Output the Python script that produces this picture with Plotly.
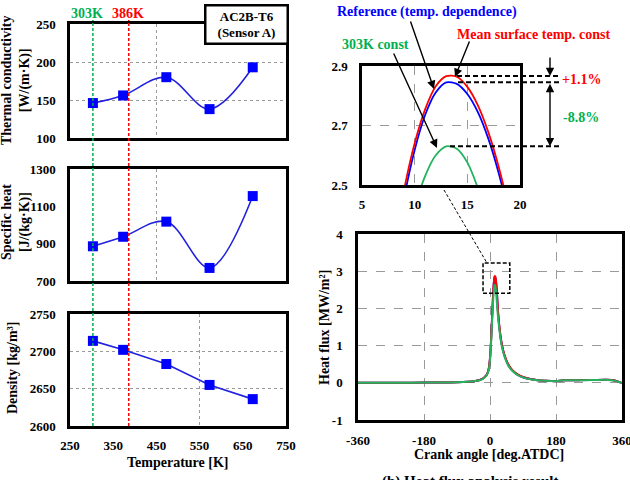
import plotly.graph_objects as go

W, H = 630, 480
FONT = "Liberation Serif"
BLUE = "#0000ff"
RED = "#ff0000"
GREEN = "#00b050"

# ---------------- data ----------------
temps = [303, 373, 473, 573, 673]
conductivity = [146, 156, 180, 138, 193]
specific_heat = [886, 937, 1018, 770, 1155]
density = [2714, 2702, 2683, 2655, 2636]

crank = [-360, -300, -240, -180, -120, -90, -60, -40, -30, -20,
         -15, -10, -6, -3, 0, 3, 6, 8, 9, 10,
         11, 12, 13, 14, 15, 16, 17, 18, 19, 20,
         22, 25, 30, 35, 40, 50, 60, 75, 90, 110,
         130, 150, 180, 200, 240, 280, 320, 340, 350, 360]
hf_reference = [0.0, 0.0, 0.0, 0.005, 0.01, 0.015, 0.03, 0.05, 0.07, 0.11,
                0.15, 0.2, 0.28, 0.4, 0.65, 1.15, 1.8, 2.26, 2.458, 2.618,
                2.736, 2.811, 2.845, 2.840, 2.806, 2.745, 2.655, 2.537, 2.391, 2.216,
                1.88, 1.55, 1.15, 0.9, 0.72, 0.48, 0.34, 0.22, 0.15, 0.1,
                0.07, 0.055, 0.045, 0.07, 0.07, 0.075, 0.08, 0.06, 0.03, -0.01]
hf_mean_const = [0.0, 0.0, 0.0, 0.005, 0.01, 0.015, 0.03, 0.05, 0.07, 0.11,
                 0.15, 0.2, 0.28, 0.41, 0.67, 1.18, 1.84, 2.29, 2.485, 2.64,
                 2.755, 2.832, 2.866, 2.864, 2.83, 2.768, 2.677, 2.558, 2.41, 2.232,
                 1.9, 1.57, 1.17, 0.91, 0.73, 0.49, 0.35, 0.225, 0.155, 0.1,
                 0.07, 0.055, 0.045, 0.07, 0.07, 0.075, 0.08, 0.06, 0.03, -0.01]
hf_303k_const = [0.0, 0.0, 0.0, 0.005, 0.01, 0.015, 0.03, 0.05, 0.07, 0.1,
                 0.14, 0.19, 0.26, 0.37, 0.6, 1.08, 1.7, 2.1, 2.279, 2.424,
                 2.531, 2.600, 2.630, 2.622, 2.576, 2.49, 2.38, 2.25, 2.12, 1.98,
                 1.75, 1.48, 1.1, 0.86, 0.69, 0.46, 0.33, 0.21, 0.145, 0.095,
                 0.068, 0.053, 0.044, 0.068, 0.068, 0.073, 0.078, 0.058, 0.03, -0.01]

temp_ticks = [250, 350, 450, 550, 650, 750]
crank_ticks = [-360, -180, 0, 180, 360]
crank_tick_labels = ["-360", "-180", "0", "180", "360"]
hf_ticks = [-1, 0, 1, 2, 3, 4]
hf_tick_labels = ["-1", "0", "1", "2", "3", "4"]


def px(x):
    return x / W


def py(y):
    return 1 - y / H


def dom_x(a, b):
    return [px(a), px(b)]


def dom_y(top, bottom):
    return [py(bottom), py(top)]


tickfont = dict(family=FONT, size=13, color="black", weight="bold")

fig = go.Figure()

# ---------------- left panels ----------------
left_series = [(conductivity, "spline"), (specific_heat, "spline"), (density, "linear")]
for i, (vals, shape) in enumerate(left_series, start=1):
    fig.add_trace(go.Scatter(
        x=temps, y=vals, mode="lines+markers", xaxis=f"x{i}", yaxis=f"y{i}",
        line=dict(color="#2222dd", width=1.6, shape=shape, smoothing=1.0),
        marker=dict(symbol="square", size=10, color=BLUE),
        showlegend=False, cliponaxis=False))

# ---------------- right panels (inset and main) ----------------
for xa, ya, w in [("x4", "y4", 1.8), ("x5", "y5", 2.0)]:
    for vals, col in [(hf_reference, BLUE), (hf_mean_const, RED), (hf_303k_const, "#22b35e")]:
        fig.add_trace(go.Scatter(
            x=crank, y=vals, mode="lines", xaxis=xa, yaxis=ya,
            line=dict(color=col, width=w, shape="spline", smoothing=0.8),
            showlegend=False, hoverinfo="skip"))

box = dict(showline=True, linecolor="black", linewidth=2.5, mirror=True,
           zeroline=False, ticks="", tickfont=tickfont, automargin=False,
           ticklabeloverflow="allow")
LX0, LX1 = 70, 286
layout = dict(
    width=W, height=H, autosize=False,
    margin=dict(l=0, r=0, t=0, b=0, pad=0, autoexpand=False),
    paper_bgcolor="white", plot_bgcolor="white",
    showlegend=False,
    font=dict(family=FONT, color="black"),
)
# panel 1
layout["xaxis"] = dict(box, domain=dom_x(LX0, LX1), anchor="y", range=[250, 750],
                       tickvals=[450], showticklabels=False, showgrid=True,
                       gridcolor="#9a9a9a", griddash="dot", gridwidth=1)
layout["yaxis"] = dict(box, domain=dom_y(24, 138), anchor="x", range=[100, 250],
                       tickvals=[100, 150, 200, 250], showgrid=True,
                       gridcolor="#9a9a9a", griddash="dot", ticklabelstandoff=9)
# panel 2
layout["xaxis2"] = dict(box, domain=dom_x(LX0, LX1), anchor="y2", range=[250, 750],
                        tickvals=[450], showticklabels=False, showgrid=True,
                        gridcolor="#9a9a9a", griddash="dot")
layout["yaxis2"] = dict(box, domain=dom_y(169, 281), anchor="x2", range=[700, 1300],
                        tickvals=[700, 900, 1100, 1300], showgrid=False,
                        ticklabelstandoff=9)
# panel 3
layout["xaxis3"] = dict(box, domain=dom_x(LX0, LX1), anchor="y3", range=[250, 750],
                        tickvals=temp_ticks, showgrid=False, ticklabelstandoff=6,
                        minor=dict(tickvals=[550], showgrid=True, gridcolor="#9a9a9a",
                                   griddash="dot", ticks=""))
layout["yaxis3"] = dict(box, domain=dom_y(314, 426), anchor="x3", range=[2600, 2750],
                        tickvals=[2600, 2650, 2700, 2750], showgrid=True,
                        gridcolor="#9a9a9a", griddash="dot", ticklabelstandoff=9)
# inset
layout["xaxis4"] = dict(box, domain=dom_x(362, 520), anchor="y4", range=[5, 20],
                        tickvals=[5, 10, 15, 20], showgrid=True, gridcolor="#9a9a9a",
                        griddash="dash", ticklabelstandoff=6)
layout["yaxis4"] = dict(box, domain=dom_y(66, 185), anchor="x4", range=[2.5, 2.9],
                        tickvals=[2.5, 2.7, 2.9], tickformat=".1f", showgrid=True,
                        gridcolor="#9a9a9a", griddash="dash", ticklabelstandoff=9)
# main heat flux
layout["xaxis5"] = dict(box, domain=dom_x(358, 622), anchor="y5", range=[-360, 360],
                        tickvals=crank_ticks, ticktext=crank_tick_labels, showgrid=True,
                        gridcolor="#9a9a9a", griddash="dash", ticklabelstandoff=7)
layout["yaxis5"] = dict(box, domain=dom_y(234, 420), anchor="x5", range=[-1, 4],
                        tickvals=hf_ticks, ticktext=hf_tick_labels, showgrid=True,
                        gridcolor="#9a9a9a", griddash="dash", ticklabelstandoff=10)
fig.update_layout(**layout)

shapes = []
# reference temperature lines across left panels
for t, col in [(303, GREEN), (386, RED)]:
    shapes.append(dict(type="line", xref="x3", yref="paper", x0=t, x1=t,
                       y0=py(426), y1=py(20), line=dict(color=col, width=1.5, dash="3px,2px")))
# peak guide lines in inset
peak_red = max(hf_mean_const)
peak_blue = max(hf_reference)
peak_green = max(hf_303k_const)
for v, x0 in [(peak_red, 457), (peak_blue, 458), (peak_green, 450)]:
    shapes.append(dict(type="line", xref="paper", yref="y4", x0=px(x0), x1=px(560),
                       y0=v, y1=v, line=dict(color="black", width=2, dash="5px,3px")))
# zoom box in main chart
shapes.append(dict(type="rect", xref="x5", yref="y5", x0=-19, x1=54, y0=2.41, y1=3.22,
                   line=dict(color="black", width=1.5, dash="4px,2px")))
# connector from inset to zoom box
shapes.append(dict(type="line", xref="paper", yref="paper", x0=px(444), y0=py(190),
                   x1=px(487), y1=py(263), line=dict(color="black", width=1, dash="3px,2px")))
fig.update_layout(shapes=shapes)

ann = []


def text(x, y, s, size=14, color="black", angle=0, xanchor="center", yanchor="middle", **kw):
    ann.append(dict(x=px(x), y=py(y), xref="paper", yref="paper", text=s,
                    showarrow=False, textangle=angle, xanchor=xanchor, yanchor=yanchor,
                    font=dict(family=FONT, size=size, color=color, weight="bold"), **kw))


text(87, 13, "303K", 14, GREEN)
text(128, 13, "386K", 14, RED)
ann.append(dict(x=px(246), y=py(24.5), xref="paper", yref="paper",
                xanchor="center", yanchor="middle",
                text="AC2B-T6<br>(Sensor A)", showarrow=False,
                font=dict(family=FONT, size=13, color="black", weight="bold"),
                bordercolor="black", borderwidth=2.5, borderpad=2, bgcolor="white",
                width=76))
text(16, 80, "Thermal conductivity<br>[W/(m·K)]", 14, angle=-90)
text(16, 222, "Specific heat<br>[J/(kg·K)]", 14, angle=-90)
text(12, 368, "Density [kg/m³]", 14, angle=-90)
text(177, 462, "Temperature [K]", 14)
text(489, 454, "Crank angle [deg.ATDC]", 14)
text(324, 327, "Heat flux [MW/m²]", 14, angle=-90)
text(470, 471, "(b) Heat flux analysis result", 15, yanchor="top")

text(427, 12, "Reference (temp. dependence)", 14, BLUE)
text(534, 35, "Mean surface temp. const", 14, RED)
text(375, 44, "303K const", 14, GREEN)
text(581, 80, "+1.1%", 14, RED)
text(581, 117, "-8.8%", 14, GREEN)


def arrow(tx, ty, sx, sy, **kw):
    ann.append(dict(x=px(tx), y=py(ty), xref="paper", yref="paper", text="",
                    showarrow=True, axref="pixel", ayref="pixel", ax=sx - tx, ay=sy - ty,
                    arrowhead=2, arrowsize=1.2, arrowwidth=1.4, arrowcolor="black", **kw))


arrow(434, 89, 410, 20)
arrow(455, 77, 470, 40)
arrow(437, 148, 393, 52)
# percentage arrows
ann.append(dict(x=px(550), y=peak_red, xref="paper", yref="y4", text="", showarrow=True,
                axref="pixel", ayref="pixel", ax=0, ay=-20, arrowhead=2, arrowsize=1.2,
                arrowwidth=1.4, arrowcolor="black"))
ann.append(dict(x=px(550), y=peak_green, xref="paper", yref="y4", text="", showarrow=True,
                axref="pixel", ayref="y4", ax=0, ay=peak_blue, arrowhead=2, startarrowhead=2,
                arrowside="end+start", arrowsize=1.2, startarrowsize=1.2,
                arrowwidth=1.4, arrowcolor="black"))
fig.update_layout(annotations=ann)

fig.write_html("out.html")
